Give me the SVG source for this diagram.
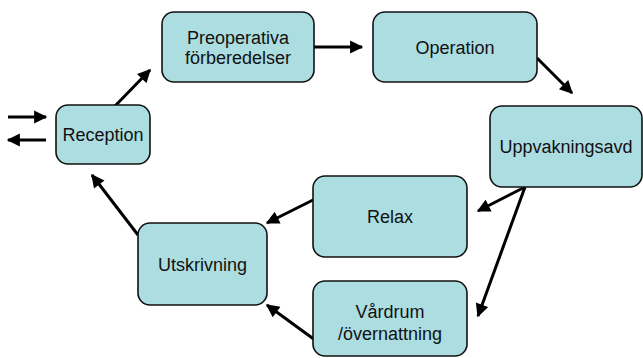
<svg xmlns="http://www.w3.org/2000/svg" width="643" height="358" viewBox="0 0 643 358">
<style>
.box{fill:#ACDDE1;stroke:#111;stroke-width:1.6}
.t{font-family:"Liberation Sans",Arial,sans-serif;font-size:18px;fill:#111;text-anchor:middle}
.c{stroke:#000;stroke-width:3;fill:none;marker-end:url(#ah)}
</style>
<defs>
<marker id="ah" viewBox="0 0 10 10" refX="9" refY="5" markerWidth="5" markerHeight="4.4" markerUnits="strokeWidth" orient="auto">
<path d="M0,0 L10,5 L0,10 Z" fill="#000"/>
</marker>
</defs>
<rect width="643" height="358" fill="#fff"/>
<g id="connectors">
<line class="c" x1="8" y1="117" x2="46" y2="117"/>
<line class="c" x1="46" y1="140" x2="8" y2="140"/>
<line class="c" x1="115" y1="106" x2="150" y2="70"/>
<line class="c" x1="314" y1="47" x2="362" y2="47"/>
<line class="c" x1="537" y1="58" x2="572" y2="93"/>
<line class="c" x1="525" y1="187" x2="478" y2="211"/>
<line class="c" x1="525" y1="187" x2="478" y2="316"/>
<line class="c" x1="315" y1="199" x2="267" y2="223"/>
<line class="c" x1="315" y1="340" x2="267" y2="305"/>
<line class="c" x1="138" y1="235" x2="92" y2="175"/>
</g>
<g id="preop">
<rect class="box" x="162" y="12" width="152" height="70" rx="12"/>
<text class="t" x="238" y="44">Preoperativa</text>
<text class="t" x="238" y="64">förberedelser</text>
</g>
<g id="operation">
<rect class="box" x="373" y="12" width="164" height="70" rx="12"/>
<text class="t" x="455" y="54">Operation</text>
</g>
<g id="uppvakning">
<rect class="box" x="490" y="106" width="152" height="81" rx="12"/>
<text class="t" x="566" y="153">Uppvakningsavd</text>
</g>
<g id="reception">
<rect class="box" x="56" y="105" width="94" height="59" rx="12"/>
<text class="t" x="103" y="141">Reception</text>
</g>
<g id="utskrivning">
<rect class="box" x="138" y="223" width="129" height="82" rx="12"/>
<text class="t" x="202.5" y="271">Utskrivning</text>
</g>
<g id="relax">
<rect class="box" x="313" y="176" width="154" height="81" rx="12"/>
<text class="t" x="390" y="223">Relax</text>
</g>
<g id="vardrum">
<rect class="box" x="313" y="281" width="154" height="75" rx="12"/>
<text class="t" x="390" y="318">Vårdrum</text>
<text class="t" x="390" y="340">/övernattning</text>
</g>
</svg>
